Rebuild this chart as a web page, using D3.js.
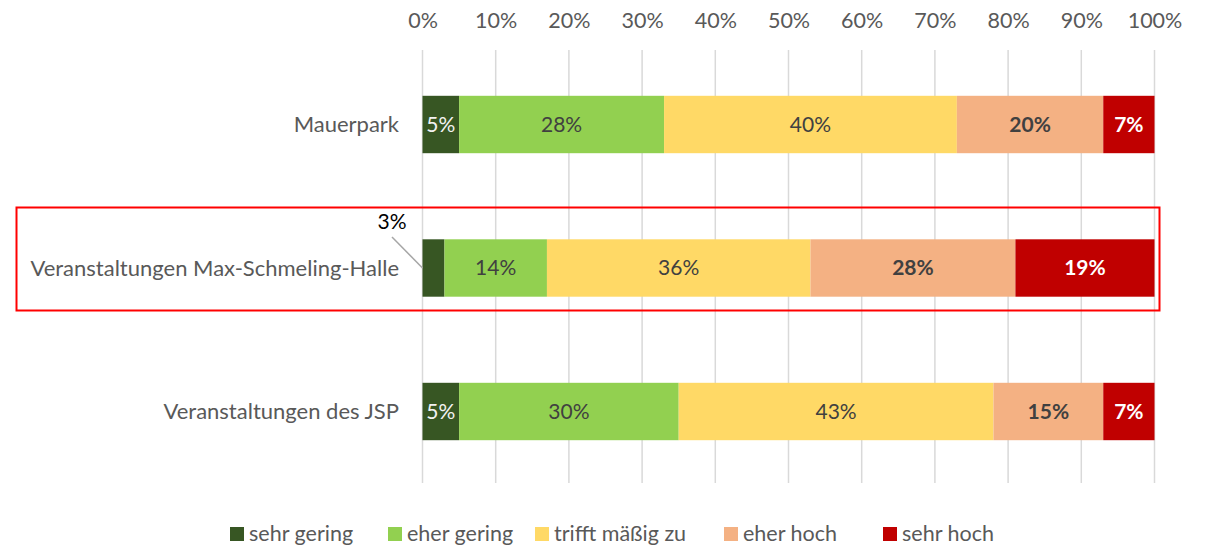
<!DOCTYPE html>
<html><head><meta charset="utf-8">
<script src="https://cdn.jsdelivr.net/npm/d3@7"></script>
<style>body{margin:0;background:#fff;} text{font-family:Lato, "Open Sans", sans-serif;}</style>
</head><body>
<svg id="chart" width="1207" height="547"></svg>
<script>
const categories = ["Mauerpark", "Veranstaltungen Max-Schmeling-Halle", "Veranstaltungen des JSP"];
const seriesNames = ["sehr gering", "eher gering", "trifft mäßig zu", "eher hoch", "sehr hoch"];
const seriesColors = ["#375623", "#92D050", "#FFD966", "#F4B183", "#C00000"];
const labelColors = ["#F2F2F2", "#404040", "#404040", "#404040", "#FFFFFF"];
const labelWeights = ["normal", "normal", "normal", "bold", "bold"];
const values = [
  [5, 28, 40, 20, 7],
  [3, 14, 36, 28, 19],
  [5, 30, 43, 15, 7]
];
const tickValues = [0,10,20,30,40,50,60,70,80,90,100];

const svg = d3.select("#chart");
const x = d3.scaleLinear().domain([0,100]).range([422.5, 1154.5]);
const y = d3.scaleBand().domain(categories).range([52.75, 483.25]).paddingInner(0.6).paddingOuter(0.3);

// gridlines
svg.append("g").selectAll("line").data(tickValues).join("line")
  .attr("x1", d => x(d)).attr("x2", d => x(d))
  .attr("y1", 50).attr("y2", 483)
  .attr("stroke", "#D9D9D9").attr("stroke-width", 1.5);

// top axis
const axis = d3.axisTop(x).tickValues(tickValues).tickFormat(d => d + "%").tickSize(0).tickPadding(0);
const ag = svg.append("g").attr("transform", "translate(0,28)").call(axis);
ag.select(".domain").remove();
ag.selectAll("text").attr("fill", "#595959").style("font-size", "21.5px").style("font-family", "Lato, sans-serif");

// stacked data
const rows = categories.map((c, i) => {
  let acc = 0;
  return values[i].map((v, j) => { const s = {cat: c, j, v, x0: acc, x1: acc + v}; acc += v; return s; });
});

const g = svg.append("g");
rows.forEach(row => {
  g.selectAll(null).data(row).join("rect")
    .attr("x", d => x(d.x0)).attr("width", d => x(d.x1) - x(d.x0))
    .attr("y", d => y(d.cat)).attr("height", y.bandwidth())
    .attr("fill", d => seriesColors[d.j]);
  g.selectAll(null).data(row.filter(d => d.v >= 4)).join("text")
    .attr("x", d => (x(d.x0) + x(d.x1)) / 2)
    .attr("y", d => y(d.cat) + y.bandwidth() / 2)
    .attr("dy", "0.35em").attr("text-anchor", "middle")
    .attr("fill", d => labelColors[d.j]).attr("font-weight", d => labelWeights[d.j])
    .style("font-size", "21px")
    .text(d => d.v + "%");
});

// category labels
svg.append("g").selectAll("text").data(categories).join("text")
  .attr("x", 399).attr("y", d => y(d) + y.bandwidth() / 2).attr("dy", "0.35em")
  .attr("text-anchor", "end").attr("fill", "#595959").style("font-size", "22px")
  .text(d => d);

// callout for small value
const small = rows[1][0];
svg.append("line")
  .attr("x1", 392).attr("y1", 237)
  .attr("x2", x(small.x0)).attr("y2", y(small.cat) + y.bandwidth() / 2)
  .attr("stroke", "#A6A6A6").attr("stroke-width", 1.5);
svg.append("text").attr("x", 392).attr("y", 229).attr("text-anchor", "middle")
  .attr("fill", "#000").style("font-size", "21px").text(small.v + "%");

// highlight box
svg.append("rect").attr("x", 16.5).attr("y", 207.5).attr("width", 1143).attr("height", 103)
  .attr("fill", "none").attr("stroke", "#FF0000").attr("stroke-width", 2);

// legend
const legendX = [230, 388, 535, 724, 883];
const lg = svg.append("g");
seriesNames.forEach((n, i) => {
  lg.append("rect").attr("x", legendX[i]).attr("y", 527).attr("width", 14).attr("height", 14).attr("fill", seriesColors[i]);
  lg.append("text").attr("x", legendX[i] + 19).attr("y", 534).attr("dy", "0.33em")
    .attr("fill", "#595959").style("font-size", "21.5px").text(n);
});
</script>
</body></html>
